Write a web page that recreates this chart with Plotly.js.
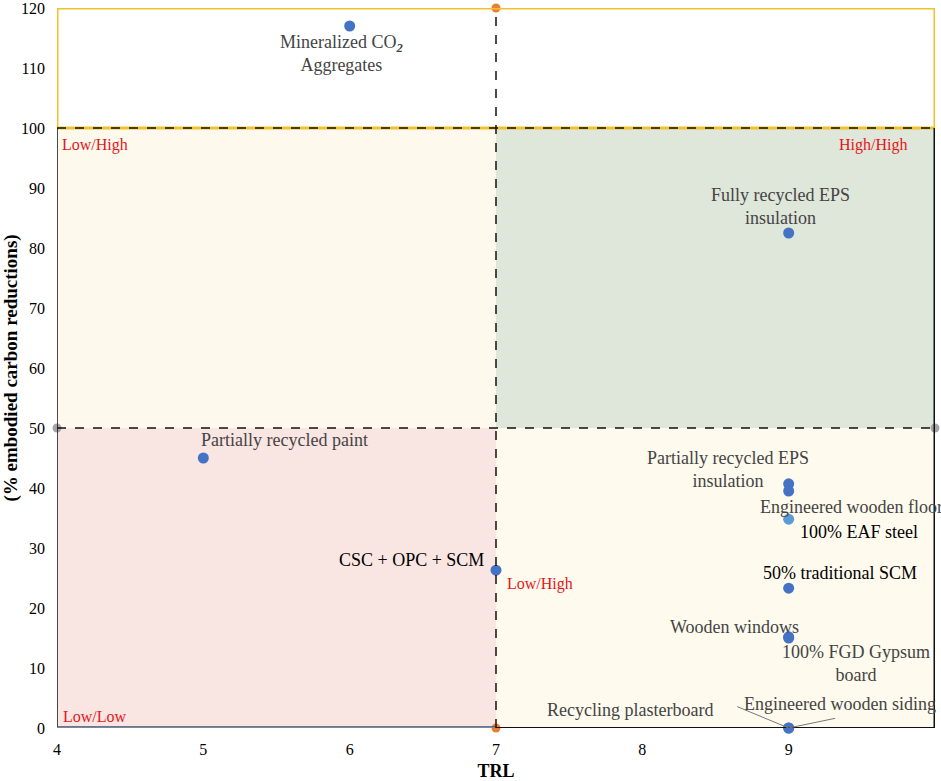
<!DOCTYPE html>
<html>
<head>
<meta charset="utf-8">
<script src="https://cdn.plot.ly/plotly-3.0.1.min.js"></script>
<style>html,body{margin:0;padding:0;background:#fff;}#chart{width:941px;height:781px;}</style>
</head>
<body>
<div id="chart"></div>
<script>
// ---- Data ----
var techNames = [
  "Mineralized CO<sub><b><i>2</i></b></sub><br>Aggregates",
  "Fully recycled EPS<br>insulation",
  "Partially recycled paint",
  "Partially recycled EPS<br>insulation",
  "Engineered wooden floor",
  "100% EAF steel",
  "50% traditional SCM",
  "Wooden windows",
  "100% FGD Gypsum<br>board",
  "CSC + OPC + SCM",
  "Recycling plasterboard",
  "Engineered wooden siding"
];
var trl = [6, 9, 5, 9, 9, 9, 9, 9, 9, 7, 9, 9];
var reduction = [117, 82.5, 45, 40.7, 39.5, 34.8, 23.3, 15.2, 15.0, 26.3, 0, 0];
var pointColors = ["#4472c4","#4472c4","#4472c4","#4472c4","#4472c4","#5b9bd5","#4472c4","#4472c4","#4472c4","#4472c4","#4472c4","#4472c4"];
var labelColors = ["#444","#444","#444","#444","#444","#000","#000","#444","#444","#000","#444","#444"];

var dividerTRL = [7, 7];
var dividerRed = [120, 0];
var midX = [4, 10];
var midY = [50, 50];

var xTicks = [4, 5, 6, 7, 8, 9];
var yTicks = [0, 10, 20, 30, 40, 50, 60, 70, 80, 90, 100, 110, 120];

// ---- Label placement (pixel offsets from each point) ----
var labelStyle = [
  {xa:"center", xs:-8,  ys:-27},
  {xa:"center", xs:-8,  ys:27},
  {xa:"left",   xs:-4,  ys:18},
  {xa:"center", xs:-61, ys:14},
  {xa:"left",   xs:-31, ys:-16},
  {xa:"left",   xs:9,   ys:-13},
  {xa:"left",   xs:-28, ys:15},
  {xa:"right",  xs:12,  ys:10},
  {xa:"center", xs:67,  ys:-25},
  {xa:"right",  xs:-10, ys:10},
  {xa:"center", xs:-159,ys:18},
  {xa:"left",   xs:-47, ys:24}
];

var serif = "'Liberation Serif', 'Times New Roman', serif";

var annotations = [];
for (var i = 0; i < techNames.length; i++) {
  var s = labelStyle[i];
  annotations.push({
    x: trl[i], y: reduction[i], xref: "x", yref: "y",
    text: techNames[i], showarrow: false,
    xanchor: s.xa, yanchor: "middle", xshift: s.xs, yshift: s.ys,
    font: {family: serif, size: 18, color: labelColors[i]},
    align: "center"
  });
}
// leader lines for y=0 labels
annotations.push({x: 9, y: 0, xref:"x", yref:"y", text:"", showarrow:true, arrowhead:0, arrowwidth:1, arrowcolor:"#777", ax:-53, ay:-22, standoff:0});
annotations.push({x: 9, y: 0, xref:"x", yref:"y", text:"", showarrow:true, arrowhead:0, arrowwidth:1, arrowcolor:"#777", ax:48, ay:-10, standoff:0});

// quadrant labels
var red = "#e3161b";
annotations.push({x:4, y:100, xref:"x", yref:"y", text:"Low/High", showarrow:false, xanchor:"left", yanchor:"top", xshift:3, yshift:-6, font:{family:serif, size:16, color:red}});
annotations.push({x:10, y:100, xref:"x", yref:"y", text:"High/High", showarrow:false, xanchor:"right", yanchor:"top", xshift:-26, yshift:-6, font:{family:serif, size:16, color:red}});
annotations.push({x:4, y:0, xref:"x", yref:"y", text:"Low/Low", showarrow:false, xanchor:"left", yanchor:"bottom", xshift:4, yshift:1, font:{family:serif, size:16, color:red}});
annotations.push({x:7, y:24, xref:"x", yref:"y", text:"Low/High", showarrow:false, xanchor:"left", yanchor:"middle", xshift:9, font:{family:serif, size:16, color:red}});

var shapes = [
  // quadrant fills
  {type:"rect", xref:"x", yref:"y", x0:4, x1:7, y0:50, y1:100, fillcolor:"#fdf9ec", line:{width:0}, layer:"below"},
  {type:"rect", xref:"x", yref:"y", x0:7, x1:10, y0:50, y1:100, fillcolor:"#dfe6da", line:{width:0}, layer:"below"},
  {type:"rect", xref:"x", yref:"y", x0:4, x1:7, y0:0, y1:50, fillcolor:"#f9e5e2", line:{width:0}, layer:"below"},
  {type:"rect", xref:"x", yref:"y", x0:7, x1:10, y0:0, y1:50, fillcolor:"#fefaee", line:{width:0}, layer:"below"},
  // top region border (yellow)
  {type:"rect", xref:"x", yref:"y", x0:4, x1:10, y0:100, y1:120, fillcolor:"rgba(0,0,0,0)", line:{color:"#f2c12e", width:3}},
  {type:"line", xref:"x", yref:"y", x0:4, x1:10, y0:120.4, y1:120.4, line:{color:"#8a7a5a", width:1}},
  // left & right black edges 0-100
  {type:"line", xref:"x", yref:"y", x0:4, x1:4, y0:0, y1:100, line:{color:"#111", width:1.5}},
  {type:"line", xref:"x", yref:"y", x0:10, x1:10, y0:0, y1:100, line:{color:"#111", width:3}},
  // bottom edge
  {type:"line", xref:"x", yref:"y", x0:4, x1:7, y0:0, y1:0, line:{color:"#3d4f6b", width:3.5}},
  {type:"line", xref:"x", yref:"y", x0:4, x1:7, y0:0, y1:0, line:{color:"#b8c2d4", width:1}},
  {type:"line", xref:"x", yref:"y", x0:7, x1:10, y0:0, y1:0, line:{color:"#111", width:2}},
  // dashed dividers
  {type:"line", xref:"x", yref:"y", x0:4, x1:10, y0:100, y1:100, line:{color:"#111", width:1.5, dash:"dash"}},
  {type:"line", xref:"x", yref:"y", x0:4, x1:10, y0:50, y1:50, line:{color:"#111", width:1.5, dash:"dash"}},
  {type:"line", xref:"x", yref:"y", x0:7, x1:7, y0:0, y1:120, line:{color:"#111", width:1.5, dash:"dash"}}
];

var traces = [
  {x: dividerTRL, y: dividerRed, type:"scatter", mode:"markers", marker:{color:"#ed7d31", size:9}, cliponaxis:false, hoverinfo:"skip"},
  {x: midX, y: midY, type:"scatter", mode:"markers", marker:{color:"#a5a5a5", size:9}, cliponaxis:false, hoverinfo:"skip"},
  {x: trl, y: reduction, type:"scatter", mode:"markers", marker:{color:pointColors, size:11}, cliponaxis:false, text: techNames, hoverinfo:"text"}
];

var layout = {
  width: 941, height: 781,
  margin: {l:57, r:6, t:8, b:53},
  paper_bgcolor: "#fff", plot_bgcolor: "#fff",
  showlegend: false,
  font: {family: serif, color:"#000"},
  xaxis: {
    range:[4,10], tickvals:xTicks, ticktext:xTicks.map(String),
    showgrid:false, zeroline:false, showline:false, ticks:"",
    ticklabelstandoff: 10, ticklabeloverflow: "allow",
    tickfont:{family:serif, size:16, color:"#000"},
    title:{text:"<b>TRL</b>", font:{family:serif, size:18, color:"#000"}, standoff:18},
    automargin:false
  },
  yaxis: {
    range:[0,120], tickvals:yTicks, ticktext:yTicks.map(String),
    showgrid:false, zeroline:false, showline:false, ticks:"",
    ticklabelstandoff: 11, ticklabeloverflow: "allow",
    tickfont:{family:serif, size:16, color:"#000"},
    title:{text:"<b>(% embodied carbon reductions)</b>", font:{family:serif, size:19, color:"#000"}, standoff:8},
    automargin:false
  },
  shapes: shapes,
  annotations: annotations
};

Plotly.newPlot("chart", traces, layout, {displayModeBar:false, staticPlot:true});
</script>
</body>
</html>
